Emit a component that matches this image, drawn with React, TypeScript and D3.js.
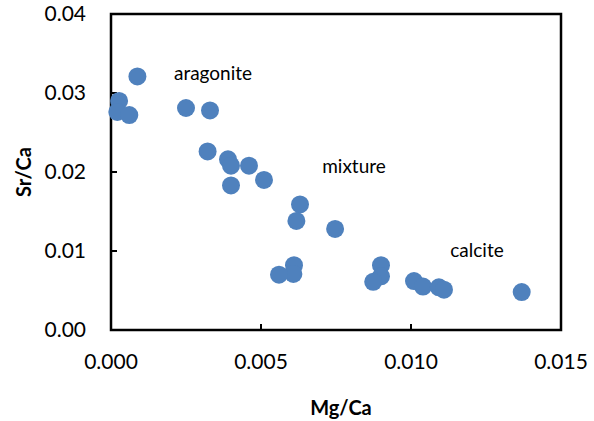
import React from 'react';
import * as d3 from 'd3';

// Mg/Ca vs Sr/Ca samples
const mgCa = [
  0.00088, 0.00027, 0.00021, 0.00061, 0.0025, 0.0033, 0.00322, 0.0039, 0.0040, 0.0046,
  0.0040, 0.0051, 0.0063, 0.00618, 0.00747, 0.0061, 0.00608, 0.0056, 0.0090, 0.0090,
  0.00874, 0.0101, 0.0104, 0.01093, 0.0111, 0.01369,
];
const srCa = [
  0.0321, 0.0290, 0.0276, 0.0272, 0.0281, 0.0278, 0.0226, 0.0216, 0.0208, 0.0208,
  0.0183, 0.0190, 0.0159, 0.0138, 0.0128, 0.0082, 0.0071, 0.0070, 0.0082, 0.0068,
  0.0061, 0.0062, 0.0055, 0.0054, 0.0051, 0.0048,
];
const xTicks = [0, 0.005, 0.01, 0.015];
const yTicks = [0, 0.01, 0.02, 0.03, 0.04];
const labels = ['aragonite', 'mixture', 'calcite'];
const labelX = [0.0034, 0.0081, 0.0122];
const labelY = [0.0325, 0.0207, 0.0101];

const W = 594;
const H = 421;
const margin = { top: 14, right: 33, bottom: 91, left: 111 };
const font = 'Lato, "Open Sans", sans-serif';
const blue = '#4F81BD';

export default function App() {
  const x = d3.scaleLinear().domain([0, 0.015]).range([margin.left, W - margin.right]);
  const y = d3.scaleLinear().domain([0, 0.04]).range([H - margin.bottom, margin.top]);
  const pts = mgCa.map((m, i) => ({ m, s: srCa[i] }));

  return (
    <svg width={W} height={H} style={{ position: 'absolute', left: 0, top: 0, background: '#fff' }}>
      {/* ticks, pointing inward */}
      {xTicks.map(t => (
        <g key={'x' + t}>
          <line x1={x(t)} x2={x(t)} y1={y(0)} y2={y(0) - 6} stroke="#000" strokeWidth={2} />
          <text x={x(t)} y={y(0) + 32} dy="0.35em" textAnchor="middle" fontFamily={font} fontSize={21} fill="#000">
            {d3.format('.3f')(t)}
          </text>
        </g>
      ))}
      {yTicks.map(t => (
        <g key={'y' + t}>
          <line x1={x(0)} x2={x(0) + 6} y1={y(t)} y2={y(t)} stroke="#000" strokeWidth={2} />
          <text x={x(0) - 25} y={y(t)} dy="0.35em" textAnchor="end" fontFamily={font} fontSize={21} fill="#000">
            {d3.format('.2f')(t)}
          </text>
        </g>
      ))}
      <rect
        x={x(0)} y={y(0.04)} width={x(0.015) - x(0)} height={y(0) - y(0.04)}
        fill="none" stroke="#000" strokeWidth={2.5}
      />
      {pts.map((p, i) => (
        <circle key={i} cx={x(p.m)} cy={y(p.s)} r={9} fill={blue} />
      ))}
      {labels.map((l, i) => (
        <text key={l} x={x(labelX[i])} y={y(labelY[i])} dy="0.35em" textAnchor="middle" fontFamily={font} fontSize={19} fill="#000">
          {l}
        </text>
      ))}
      <text x={(x(0) + x(0.015)) / 2 + 5} y={408} dy="0.35em" textAnchor="middle" fontFamily={font} fontSize={20} fontWeight="bold" fill="#000">
        Mg/Ca
      </text>
      <text transform={`translate(24,${(y(0) + y(0.04)) / 2}) rotate(-90)`} dy="0.35em" textAnchor="middle" fontFamily={font} fontSize={20} fontWeight="bold" fill="#000">
        Sr/Ca
      </text>
    </svg>
  );
}
